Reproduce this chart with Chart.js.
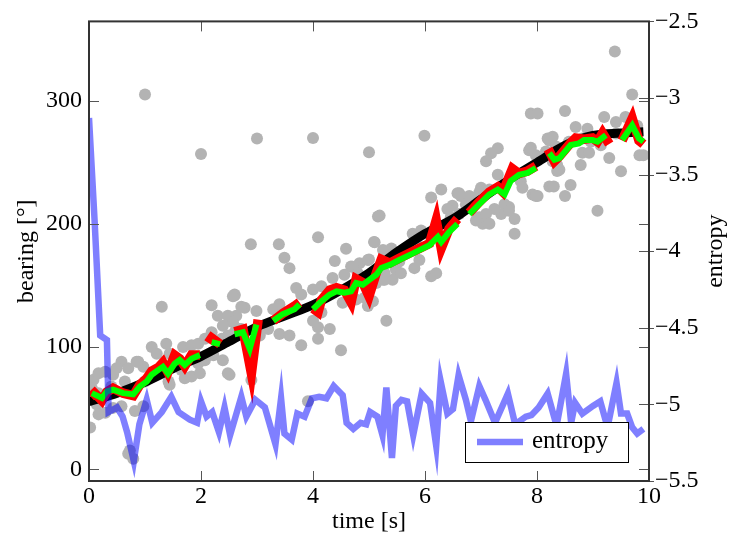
<!DOCTYPE html>
<html>
<head>
<meta charset="utf-8">
<script src="https://cdn.jsdelivr.net/npm/chart.js@4.4.1/dist/chart.umd.min.js"></script>
<style>
  body { margin: 0; background: #fff; }
  canvas { display: block; }
</style>
</head>
<body>
<canvas id="chart" width="730" height="538"></canvas>
<script>
// axis ticks
const xTicks = [0, 2, 4, 6, 8, 10];
const bearingTicks = [0, 100, 200, 300];
const entropyTicks = [-5.5, -5, -4.5, -4, -3.5, -3, -2.5];

// gray measurements (time, bearing)
const scatterT = [1.0,2.0,3.0,4.0,5.0,5.99,9.39,9.7,8.5,7.89,8.01,
  5.16,2.89,3.39,4.09,3.49,4.59,5.09,4.39,5.0,3.58,
  8.69,8.9,9.2,9.41,9.58,9.79,9.83,9.9,9.29,9.5,9.08,8.81,8.93,8.6,8.5,8.22,8.3,8.01,8.22,8.34,8.28,8.4,7.86,7.71,7.47,7.6,7.6,7.3,7.18,7.09,7.3,7.0,6.82,6.64,6.58,6.29,6.11,6.49,5.19,5.1,7.5,7.36,6.91,7.03,7.92,
  9.41,8.19,8.28,8.81,8.96,8.57,9.14,8.16,8.78,8.36,8.36,
  7.98,7.89,6.61,6.79,7.15,7.74,7.98,6.4,6.73,6.85,6.97,7.24,7.42,7.5,5.78,5.84,5.93,5.4,5.78,5.9,5.81,5.54,5.48,5.42,5.57,6.11,6.2,6.46,6.61,6.97,7.09,7.15,5.28,5.25,5.25,
  4.68,4.83,4.98,2.6,2.78,2.99,3.29,3.4,3.7,3.79,4.0,4.15,4.35,4.56,4.71,4.8,5.13,5.28,5.31,4.98,5.07,2.51,2.63,2.69,3.2,3.4,3.58,3.79,4.09,4.3,4.09,4.5,4.0,4.15,3.11,3.05,2.9,2.51,4.53,4.77,4.92,
  1.3,2.19,2.6,2.72,2.3,2.48,2.57,2.39,1.12,1.38,1.21,1.44,1.68,1.83,1.95,2.07,2.19,2.37,2.48,2.6,2.72,2.22,2.39,2.48,0.58,0.7,0.88,0.97,0.29,0.43,0.49,0.08,0.17,0.05,0.17,0.02,0.14,0.29,0.43,0.17,0.02,0.58,0.82,0.97,0.7,0.79,1.44,1.71,1.83,1.98,1.65,1.95,2.07,1.12,1.24,1.0,1.42,0.4,0.64,0.85,3.91,0.73,2.57];
const scatterB = [305.5,257,269.6,270,258.4,271.8,340.5,305.5,292,290,290,
  206,183.4,183.4,189,172.4,179.7,185.3,169.7,171,163.9,
  279,277.6,287,283,287,280,256,256,253.6,242.8,210.7,258,258,231.6,222.7,230.5,230.5,222.7,268,263,251,244,260,234.8,214,204,192,261.6,257.6,251,240,229.5,221.4,222.7,225,228,221.4,214.7,206.7,185,213.8,208,202.7,200,224,
  273.6,269.6,271,269.6,267,267,264,259,248,248,243,
  256,262,225,222.7,228,229.5,222.7,212,215.7,217.4,225.5,212,216,210.7,192,186.6,194.6,180,178.6,170.5,163.9,169.2,162.5,154.5,159.8,157.2,159.8,205.4,208,205.4,208,200,159.8,154.5,178.6,
  165.2,167.9,170.5,142.4,131.7,129,130.4,134.4,147.8,142.4,146.4,149.1,155.8,158.5,165,159.8,151.8,154.5,121,133,137,121,125,114.3,114.3,110.3,109,101,106.3,114.3,115.7,97,121,127.7,114.3,109,72.7,76.9,135.7,138.4,139.8,
  132.5,133.6,141.6,132.5,125,125,119.7,117,99.6,102.2,94.2,94.2,99.6,101,102.2,106.3,111.6,106.3,109,111.6,114.3,92.9,88.9,78.2,87.6,82.2,87.6,83.5,79.5,76.9,82.2,72.9,78.2,66,62,58,52.8,46,50,44.7,34,51.4,47.4,51.4,12.6,8.6,68.8,74.1,75.5,78.2,80.9,86.2,88.9,75.5,78.2,71.5,71.5,67.5,71.5,87.6,55.4,15.3,141];

// smooth reference bearing
const curveT = [0,0.5,1,1.5,2,2.5,3,3.5,4,4.5,5,5.5,6,6.5,7,7.5,8,8.5,9,9.5,9.9];
const curveB = [55,62,71,82,92,104,116,125,134,146,160,177,192,204,220,236,250,264,272,274,275];

// red estimate (null = gap)
const redT = [0.03,0.1,0.23,0.32,0.43,0.61,0.79,0.91,1.03,1.12,1.24,1.32,1.41,1.53,1.62,1.71,1.83,1.98,2.05,2.13,2.19,2.34,2.45,2.6,2.75,2.9,3.02,3.15,3.29,3.46,3.67,3.76,3.9,4.0,4.09,4.15,4.3,4.42,4.56,4.68,4.77,4.89,5.0,5.13,5.22,5.37,5.54,5.72,5.9,6.08,6.2,6.29,6.43,6.58,6.68,6.79,6.97,7.15,7.3,7.39,7.56,7.68,7.83,7.98,8.1,8.2,8.31,8.4,8.6,8.69,8.84,8.99,9.08,9.17,9.29,9.4,9.52,9.7,9.82,9.9];
const redB = [59,62,56,63,66,62,60,69,74,80,83,87,79,93,90,84,93,93,null,103,107,102,null,112,114,78,122,null,121,127,133,136,null,131,128,138,146,148,146,136,155,152,141,160,171,168,172,176,180,184,203,180,196,204,null,209,218,226,230,226,245,241,243,247,null,261,251,255,266,270,269,270,267,274,265,null,268,286,268,265];

// green estimate (null = gap)
const greenT = [0.05,0.23,0.32,0.43,0.61,0.79,0.91,1.03,1.12,1.24,1.32,1.41,1.53,1.62,1.71,1.83,1.98,2.05,2.19,2.34,2.45,2.6,2.75,2.87,2.99,3.15,3.29,3.46,3.67,3.76,3.9,4.0,4.12,4.3,4.42,4.56,4.68,4.77,4.89,5.01,5.13,5.22,5.37,5.54,5.72,5.9,6.08,6.23,6.29,6.43,6.58,6.68,6.79,6.97,7.15,7.3,7.42,7.53,7.68,7.83,7.98,8.1,8.22,8.31,8.4,8.6,8.75,8.84,8.99,9.08,9.23,9.4,9.52,9.7,9.82,9.9];
const greenB = [62,58,63.5,64.8,62,61,67.5,71.5,77,81,83.5,78,86,89,85,90,93,null,103.6,102,null,110,111.6,98,118,null,121,126.4,130.4,134.4,null,130.4,135.7,142.4,145,143.8,145,151.8,150.4,154.5,158.5,164,166.5,170.5,174.5,178.6,182.6,189.3,185.3,193.3,200,null,208,216,224,228,224,235,240,241.5,245.5,null,257.6,252.2,253.6,264.3,265.6,268.3,268.3,267,272.3,null,268.3,280.3,269.6,267];

// entropy
const entropyT = [0,0.1,0.2,0.32,0.35,0.5,0.6,0.68,0.8,0.9,1.03,1.13,1.3,1.47,1.6,1.8,1.93,2.0,2.1,2.2,2.32,2.42,2.52,2.72,2.81,2.97,3.14,3.33,3.43,3.49,3.62,3.72,3.85,3.98,4.11,4.24,4.37,4.53,4.6,4.72,4.85,4.95,5.02,5.15,5.24,5.31,5.41,5.48,5.58,5.68,5.79,5.94,6.09,6.2,6.28,6.4,6.5,6.6,6.73,6.82,6.97,7.08,7.25,7.48,7.61,7.8,7.9,8.03,8.19,8.35,8.52,8.61,8.68,8.81,9.0,9.13,9.26,9.42,9.5,9.61,9.7,9.79,9.9];
const entropyV = [-3.13,-3.80,-4.55,-4.58,-5.05,-5.02,-5.08,-5.18,-5.37,-5.13,-4.97,-5.12,-5.05,-4.95,-5.05,-5.10,-5.12,-4.98,-5.08,-5.05,-5.18,-5.02,-5.20,-4.95,-5.08,-4.97,-5.02,-5.26,-4.96,-5.19,-5.23,-5.06,-5.08,-4.96,-4.95,-4.96,-4.88,-4.94,-5.12,-5.16,-5.12,-5.13,-5.05,-5.08,-5.20,-4.89,-5.35,-5.01,-4.97,-4.98,-5.20,-4.93,-4.99,-5.27,-4.85,-5.06,-5.03,-4.81,-4.97,-5.11,-4.88,-4.97,-5.12,-4.93,-5.13,-5.08,-5.07,-5.02,-4.93,-5.14,-4.80,-5.12,-4.99,-5.06,-5.01,-4.98,-5.15,-4.86,-5.06,-5.06,-5.15,-5.19,-5.16];

function pairs(ts, vs) {
    return ts.map((t, i) => ({ x: t, y: vs[i] }));
}

const FONT = "'Liberation Serif', 'Times New Roman', serif";
const entropyColor = "rgba(0,0,255,0.5)";

// frame, inward ticks, right title and legend box (pgfplots look)
const framePlugin = {
    id: "frame",
    afterDraw(chart) {
        const ctx = chart.ctx;
        const a = chart.chartArea;
        const sx = chart.scales.x, sy = chart.scales.y, sy2 = chart.scales.y2;
        const tl = 10;
        ctx.save();
        ctx.strokeStyle = "#555";
        ctx.lineWidth = 1;
        ctx.beginPath();
        xTicks.forEach(v => {
            let px = Math.round(sx.getPixelForValue(v)) + 0.5;
            ctx.moveTo(px, a.bottom); ctx.lineTo(px, a.bottom - tl);
            ctx.moveTo(px, a.top); ctx.lineTo(px, a.top + tl);
        });
        bearingTicks.forEach(v => {
            let py = Math.round(sy.getPixelForValue(v)) + 0.5;
            ctx.moveTo(a.left, py); ctx.lineTo(a.left + tl, py);
            ctx.moveTo(a.right, py); ctx.lineTo(a.right - tl, py);
        });
        entropyTicks.forEach(v => {
            let py = Math.round(sy2.getPixelForValue(v)) + 0.5;
            ctx.moveTo(a.right - tl, py); ctx.lineTo(a.right + 5, py);
        });
        ctx.stroke();

        ctx.strokeStyle = "#333";
        ctx.lineWidth = 2;
        ctx.strokeRect(a.left, a.top, a.right - a.left, a.bottom - a.top);

        // right axis title
        ctx.fillStyle = "#000";
        ctx.font = "24px " + FONT;
        ctx.textAlign = "center";
        ctx.textBaseline = "middle";
        ctx.translate(716, (a.top + a.bottom) / 2);
        ctx.rotate(-Math.PI / 2);
        ctx.fillText("entropy", 0, 0);
        ctx.restore();

        // legend
        ctx.save();
        let bx = a.right - 184, by = a.bottom - 59, bw = 163, bh = 40;
        ctx.fillStyle = "#fff";
        ctx.fillRect(bx, by, bw, bh);
        ctx.strokeStyle = "#000";
        ctx.lineWidth = 1;
        ctx.strokeRect(bx + 0.5, by + 0.5, bw, bh);
        ctx.strokeStyle = entropyColor;
        ctx.lineWidth = 6.5;
        ctx.beginPath();
        ctx.moveTo(bx + 12, by + 20);
        ctx.lineTo(bx + 58, by + 20);
        ctx.stroke();
        ctx.fillStyle = "#000";
        ctx.font = "25px " + FONT;
        ctx.textBaseline = "middle";
        ctx.fillText("entropy", bx + 67, by + 19);
        ctx.restore();
    }
};

new Chart(document.getElementById("chart"), {
    type: "line",
    data: {
        datasets: [
            {
                label: "entropy",
                data: pairs(entropyT, entropyV),
                yAxisID: "y2",
                borderColor: entropyColor,
                borderWidth: 6.5,
                pointRadius: 0,
                order: 0
            },
            {
                label: "green",
                data: pairs(greenT, greenB),
                yAxisID: "y",
                borderColor: "#00ff00",
                borderWidth: 6,
                pointRadius: 0,
                spanGaps: false,
                order: 1
            },
            {
                label: "red",
                data: pairs(redT, redB),
                yAxisID: "y",
                borderColor: "#ff0000",
                borderWidth: 9.5,
                pointRadius: 0,
                spanGaps: false,
                order: 2
            },
            {
                label: "truth",
                data: pairs(curveT, curveB),
                yAxisID: "y",
                borderColor: "#000",
                borderWidth: 9,
                pointRadius: 0,
                cubicInterpolationMode: "monotone",
                order: 3
            },
            {
                label: "measurements",
                data: pairs(scatterT, scatterB),
                yAxisID: "y",
                showLine: false,
                pointRadius: 6,
                pointBorderWidth: 0,
                pointBackgroundColor: "#b3b3b3",
                borderColor: "#b3b3b3",
                order: 4
            }
        ]
    },
    options: {
        responsive: false,
        animation: false,
        devicePixelRatio: 1,
        layout: { padding: { top: 15, left: 0, right: 0, bottom: 0 } },
        plugins: { legend: { display: false }, tooltip: { enabled: false } },
        scales: {
            x: {
                type: "linear",
                min: 0,
                max: 10,
                afterFit(s) { s.height = 57; },
                afterBuildTicks(s) { s.ticks = xTicks.map(v => ({ value: v })); },
                grid: { display: false, drawTicks: false },
                border: { display: false },
                ticks: { color: "#000", font: { family: FONT, size: 24 }, padding: 1, maxRotation: 0, autoSkip: false },
                title: { display: true, text: "time [s]", color: "#000", font: { family: FONT, size: 24 }, padding: { top: 0, bottom: 2 } }
            },
            y: {
                type: "linear",
                position: "left",
                min: -9.6,
                max: 365,
                afterFit(s) { s.width = 89; },
                afterBuildTicks(s) { s.ticks = bearingTicks.map(v => ({ value: v })); },
                grid: { display: false, drawTicks: false },
                border: { display: false },
                ticks: { color: "#000", font: { family: FONT, size: 24 }, padding: 7, autoSkip: false },
                title: { display: true, text: "bearing [°]", color: "#000", font: { family: FONT, size: 24 }, padding: { top: 12, bottom: 0 } }
            },
            y2: {
                type: "linear",
                position: "right",
                min: -5.5,
                max: -2.5,
                afterFit(s) { s.width = 81; },
                afterBuildTicks(s) { s.ticks = entropyTicks.map(v => ({ value: v })); },
                grid: { display: false, drawTicks: false },
                border: { display: false },
                ticks: {
                    color: "#000",
                    font: { family: FONT, size: 24 },
                    padding: 6,
                    autoSkip: false,
                    callback: v => String(v).replace("-", "\u2212")
                }
            }
        }
    },
    plugins: [framePlugin]
});
</script>
</body>
</html>
